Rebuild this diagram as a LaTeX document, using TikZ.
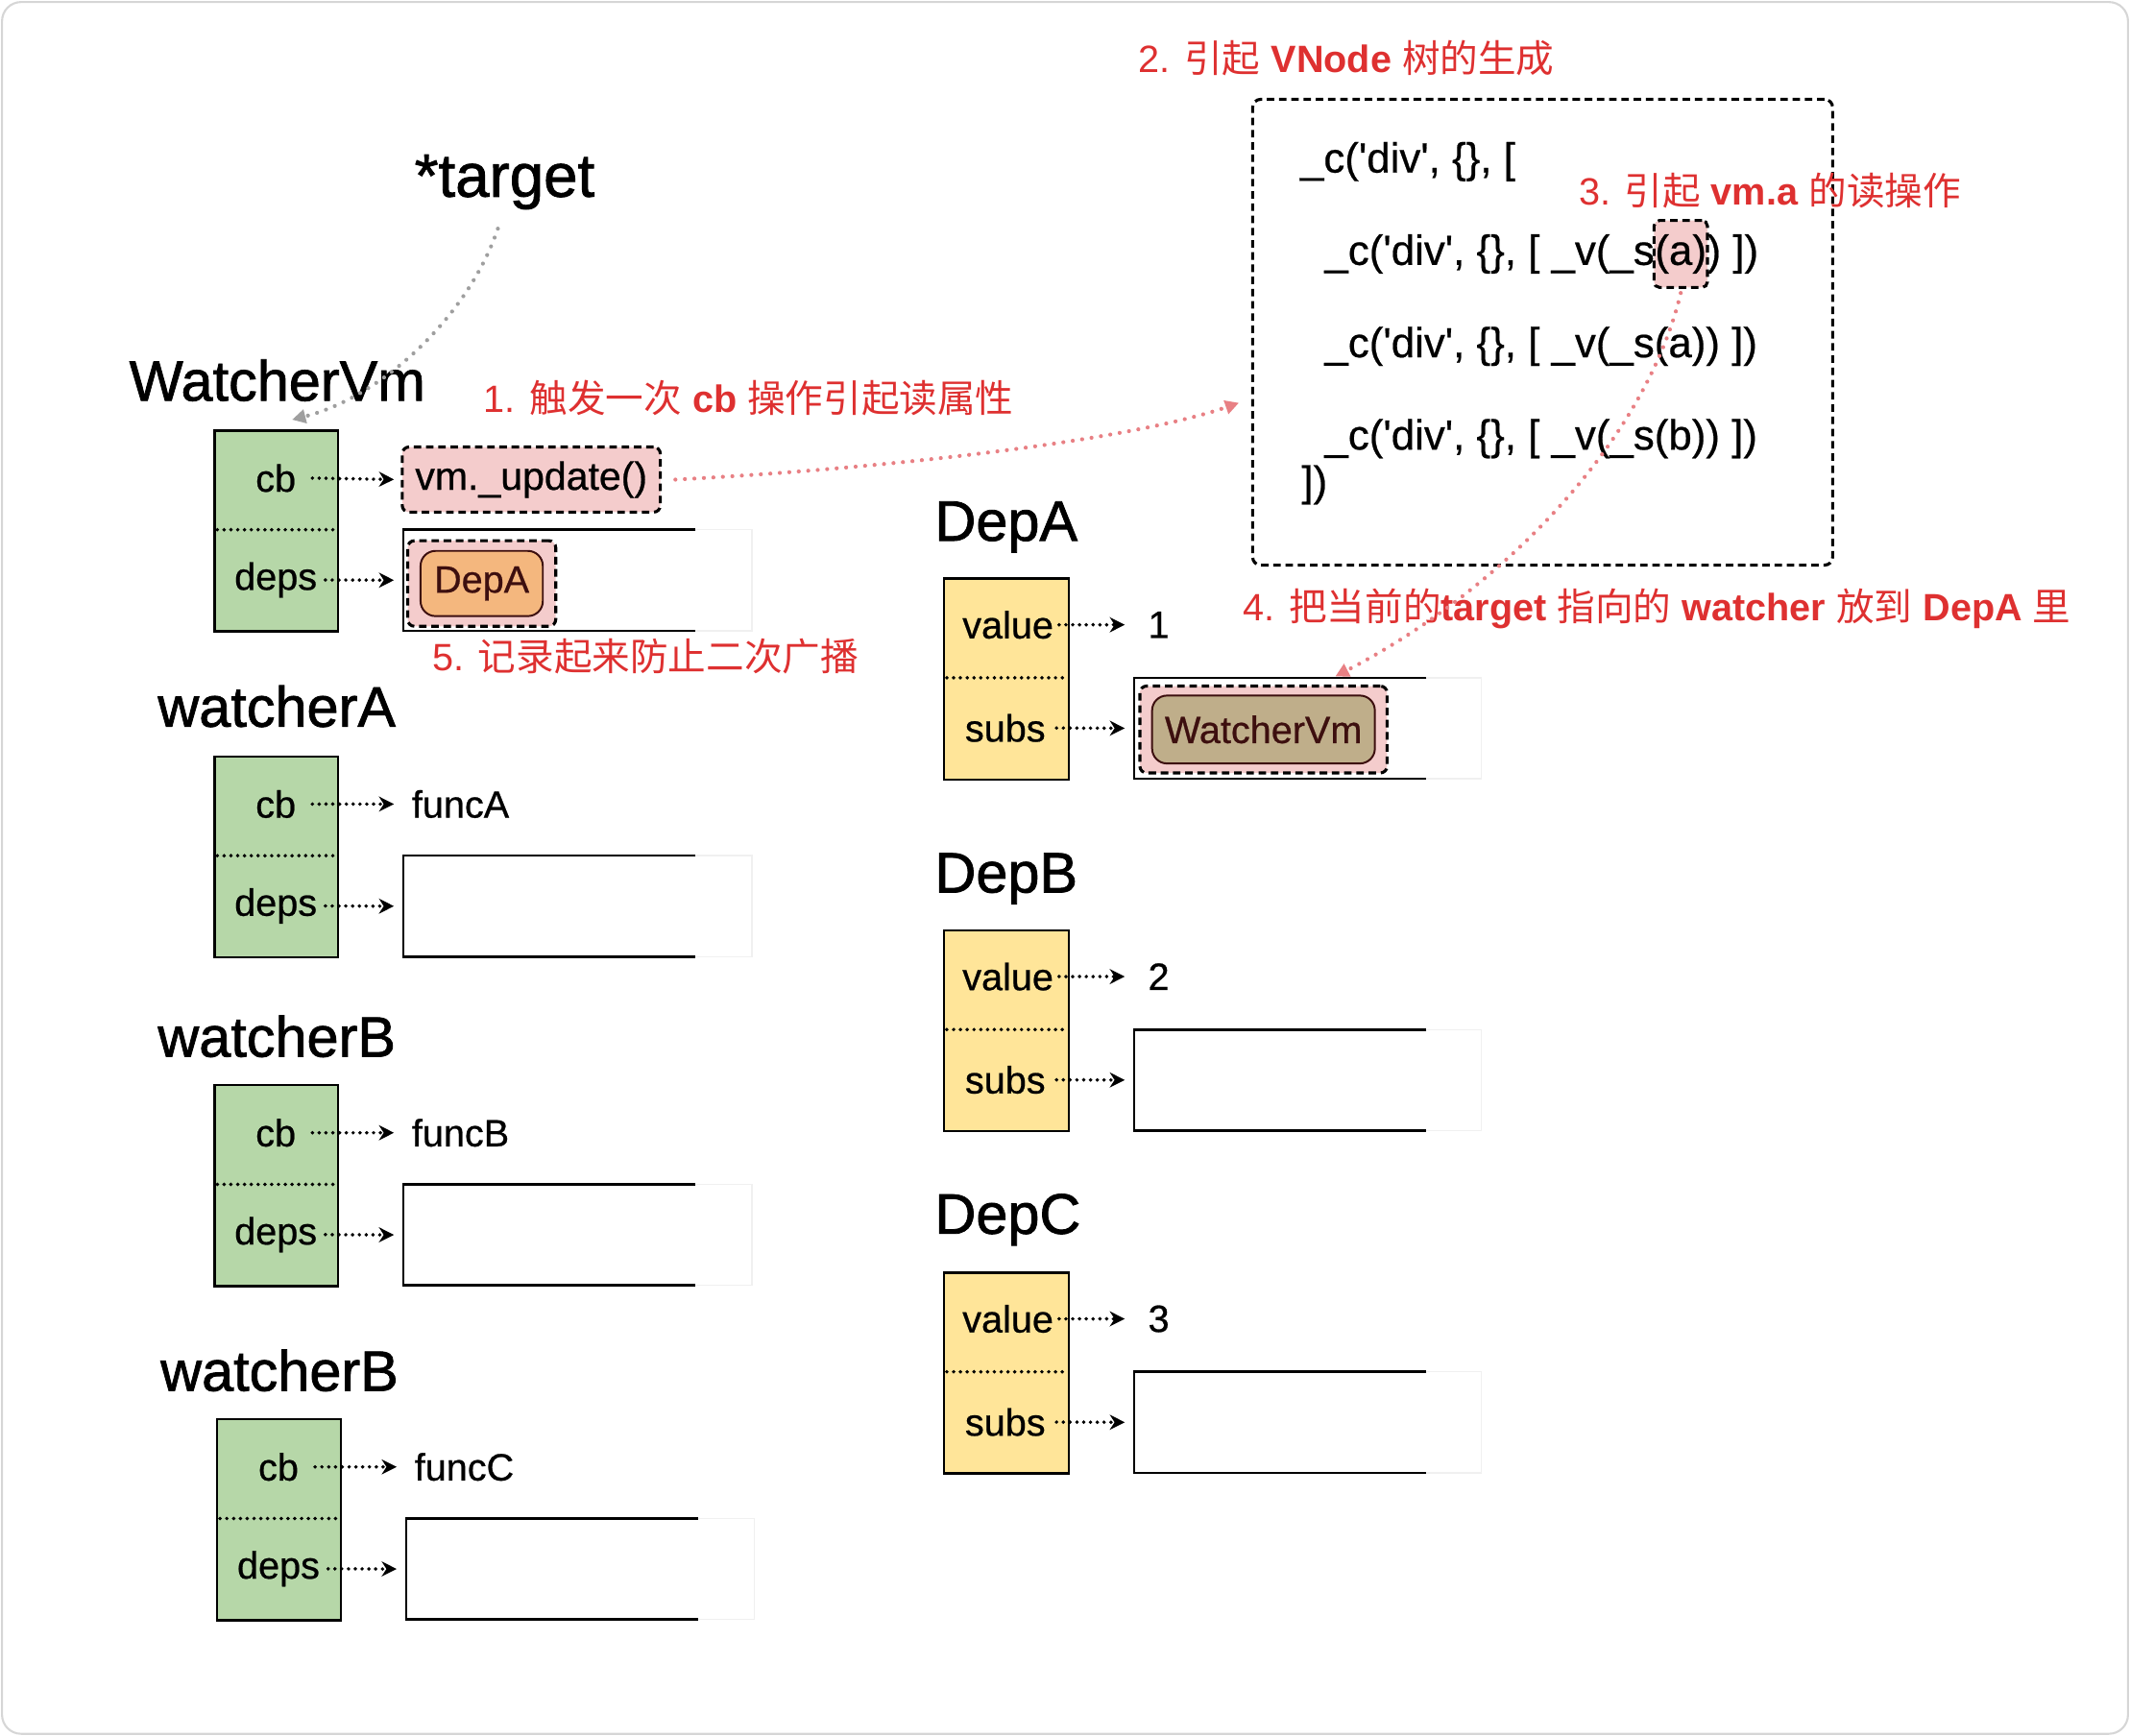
\documentclass[tikz,border=0pt]{standalone}
\usepackage{fontspec}
\setmainfont{Liberation Sans}
\newfontfamily\cjk{Noto Sans CJK SC}
\newfontfamily\codefont{Liberation Sans}[FakeBold=0.5]
\newfontfamily\labfont{Liberation Sans}[FakeBold=0.6]
\newfontfamily\ttlfont{Liberation Sans}[FakeBold=1.3]
\usetikzlibrary{arrows.meta,calc,fit,backgrounds}
\definecolor{wgreen}{HTML}{B6D7A8}
\definecolor{dyellow}{HTML}{FFE599}
\definecolor{hlpink}{HTML}{F4CCCC}
\definecolor{dorange}{HTML}{F4B77E}
\definecolor{dbrown}{HTML}{BFAE8A}
\definecolor{redtxt}{RGB}{222,48,48}
\definecolor{pinkdot}{RGB}{232,128,132}
\definecolor{darkbr}{HTML}{3D0F0F}
\tikzset{
 wbox/.style={draw=black, line width=1.8pt, fill=wgreen, minimum width=91pt, minimum height=148pt, anchor=north west, inner sep=0pt},
 dbox/.style={wbox, fill=dyellow, minimum width=92pt},
 divline/.style={line width=2.8pt, line cap=round, dash pattern=on 0pt off 5pt},
 lab/.style={font=\labfont\fontsize{28}{30}\selectfont, inner sep=0pt},
 ttl/.style={font=\ttlfont\fontsize{42}{46}\selectfont, inner sep=0pt, anchor=west},
 ptr/.style={line width=2.8pt, line cap=round, dash pattern=on 0pt off 5pt, -{Stealth[length=11pt,width=11pt,inset=3.5pt]}},
 arrspan/.style={minimum width=256pt, minimum height=74pt, anchor=north west, inner sep=0pt},
 arrk/.style={line width=1.8pt, black},
 arrfaint/.style={line width=1pt, black!6},
 pinkdash/.style={draw=black, fill=hlpink, line width=2.2pt, dash pattern=on 5.5pt off 3.5pt, rounded corners=5pt, inner sep=0pt},
 orbox/.style={draw=darkbr, fill=dorange, line width=1.4pt, rounded corners=11pt, text=darkbr, font=\labfont\fontsize{28}{30}\selectfont, inner sep=0pt},
 brbox/.style={orbox, fill=dbrown},
 rnote/.style={text=redtxt, font=\fontsize{28}{30}\selectfont, inner sep=0pt, anchor=west},
 code/.style={font=\codefont\fontsize{31}{33}\selectfont, inner sep=0pt, anchor=base west},
 softarrow/.style={line width=3pt, line cap=round, dash pattern=on 0pt off 7pt, -{Triangle[length=10pt,width=10pt]}},
}
\newcommand\qq{\textquotesingle}
\newcommand\wblk[3]{%
  \node[wbox] (#1) at (#2,#3) {};
  \draw[divline] ([xshift=3pt,yshift=-74pt]#1.north west) -- ([xshift=-3pt,yshift=-74pt]#1.north east);
  \node[lab] (#1cb) at ([xshift=46pt,yshift=-36pt]#1.north west) {cb};
  \node[lab] (#1dp) at ([xshift=46pt,yshift=-111pt]#1.north west) {deps};
  \node[arrspan] (#1ar) at ([xshift=140pt,yshift=-74pt]#1.north west) {};
  \draw[arrfaint] ([xshift=215pt]#1ar.north west) -- (#1ar.north east) -- (#1ar.south east) -- ([xshift=215pt]#1ar.south west);
  \draw[arrk] ([xshift=215pt]#1ar.north west) -- (#1ar.north west) -- (#1ar.south west) -- ([xshift=215pt]#1ar.south west);
  \draw[ptr, shorten >=7pt] ([xshift=6pt]#1dp.east) -- (#1ar.west);
}
\newcommand\dblk[4]{%
  \node[dbox] (#1) at (#2,#3) {};
  \draw[divline] ([xshift=3pt,yshift=-74pt]#1.north west) -- ([xshift=-3pt,yshift=-74pt]#1.north east);
  \node[lab] (#1v) at ([xshift=48pt,yshift=-35pt]#1.north west) {value};
  \node[lab] (#1s) at ([xshift=46pt,yshift=-111pt]#1.north west) {subs};
  \node[lab, anchor=west] (#1n) at ([xshift=151pt,yshift=-35pt]#1.north west) {#4};
  \node[arrspan, minimum width=255pt] (#1ar) at ([xshift=141pt,yshift=-74pt]#1.north west) {};
  \draw[arrfaint] ([xshift=215pt]#1ar.north west) -- (#1ar.north east) -- (#1ar.south east) -- ([xshift=215pt]#1ar.south west);
  \draw[arrk] ([xshift=215pt]#1ar.north west) -- (#1ar.north west) -- (#1ar.south west) -- ([xshift=215pt]#1ar.south west);
  \draw[ptr, shorten >=17pt] ([xshift=4pt]#1v.east) -- (#1n.west);
  \draw[ptr, shorten >=7pt] ([xshift=8pt]#1s.east) -- (#1ar.west);
}
\begin{document}
\begin{tikzpicture}[x=1pt,y=-1pt]
\useasboundingbox (0,0) rectangle (1568,1278);
\draw[black!16, line width=1.5pt, rounded corners=14pt] (1.5,1.5) rectangle (1566.5,1276.5);

% titles
\node[ttl, font=\ttlfont\fontsize{45}{48}\selectfont] (tgt) at (305,134) {*target};
\node[ttl] (tWvm) at (95,280) {WatcherVm};
\node[ttl] (tWa) at (116,520) {watcherA};
\node[ttl] (tWb) at (116,763) {watcherB};
\node[ttl] (tWc) at (118,1009) {watcherB};
\node[ttl] (tDa) at (688,388) {DepA};
\node[ttl] (tDb) at (688,647) {DepB};
\node[ttl] (tDc) at (688,898) {DepC};

% watcher blocks
\wblk{wv}{157}{316}
\wblk{wa}{157}{556}
\wblk{wb}{157}{798}
\wblk{wc}{159}{1044}

% dep blocks
\dblk{da}{694}{425}{1}
\dblk{db}{694}{684}{2}
\dblk{dc}{694}{936}{3}

% cb targets
\node[pinkdash, minimum width=190pt, minimum height=48pt, anchor=north west, font=\labfont\fontsize{29}{31}\selectfont] (upd) at (295,328) {vm.\_update()};
\draw[ptr, shorten >=5pt] ([xshift=12pt]wvcb.east) -- (upd.west);
\node[lab, anchor=west] (fa) at (303,592) {funcA};
\draw[ptr, shorten >=13pt] ([xshift=12pt]wacb.east) -- (fa.west);
\node[lab, anchor=west] (fb) at (303,834) {funcB};
\draw[ptr, shorten >=13pt] ([xshift=12pt]wbcb.east) -- (fb.west);
\node[lab, anchor=west] (fc) at (305,1080) {funcC};
\draw[ptr, shorten >=13pt] ([xshift=12pt]wccb.east) -- (fc.west);

% array contents
\node[pinkdash, minimum width=109pt, minimum height=63pt, anchor=north west] (pdA) at ([xshift=2pt,yshift=-7pt]wvar.north west) {};
\node[orbox, minimum width=90pt, minimum height=48pt] (depA) at (pdA.center) {DepA};
\node[pinkdash, minimum width=182pt, minimum height=64pt, anchor=north west] (pdW) at ([xshift=3pt,yshift=-5pt]daar.north west) {};
\node[brbox, minimum width=164pt, minimum height=50pt] (wvm2) at (pdW.center) {WatcherVm};

% code box
\node[draw, line width=2.2pt, dash pattern=on 5.5pt off 3.5pt, rounded corners=6pt, minimum width=427pt, minimum height=343pt, anchor=north west, inner sep=0pt] (codebox) at (921,72) {};
\node[code] (c0) at (957,127) {\_c(\qq div\qq, \{\}, [};
\node[code] (c1a) at (975,195) {\_c(\qq div\qq, \{\}, [ \_v(\_s};
\node[code] (c1b) at (c1a.base east) {(a)};
\node[code] (c1c) at (c1b.base east) {) ])};
\node[code] (c2) at (975,263) {\_c(\qq div\qq, \{\}, [ \_v(\_s(a)) ])};
\node[code] (c3) at (975,331) {\_c(\qq div\qq, \{\}, [ \_v(\_s(b)) ])};
\node[code] (c4) at (958,365) {])};
\begin{scope}[on background layer]
\node[pinkdash, fit=(c1b), inner xsep=0.5pt, inner ysep=10pt, rounded corners=4pt] (hl) {};
\end{scope}

% red notes
\node[rnote] (n1) at (356,293) {1. {\cjk 触发一次} \textbf{cb} {\cjk 操作引起读属性}};
\node[rnote] (n2) at (838,43) {2. {\cjk 引起} \textbf{VNode} {\cjk 树的生成}};
\node[rnote] (n3) at (1162,140) {3. {\cjk 引起} \textbf{vm.a} {\cjk 的读操作}};
\node[rnote] (n4) at (915,448) {4. {\cjk 把当前的}\textbf{target} {\cjk 指向的} \textbf{watcher} {\cjk 放到} \textbf{DepA} {\cjk 里}};
\node[rnote] (n5) at (318,483) {5. {\cjk 记录起来防止二次广播}};

% connectors
\coordinate (wvIn) at ([xshift=58pt,yshift=7pt]wv.north west);
\coordinate (codeIn) at ([xshift=-9pt,yshift=-52pt]codebox.west);
\coordinate (daIn) at ([xshift=148pt,yshift=1pt]daar.north west);
\draw[softarrow, gray!75] ([xshift=-5pt,yshift=-14pt]tgt.south) .. controls (345,232) and (282,292) .. (wvIn);
\draw[softarrow, pinkdot] ([xshift=10pt]upd.east) .. controls (650,345) and (830,325) .. (codeIn);
\draw[softarrow, pinkdot] ([yshift=-3pt]hl.south) .. controls (1212,322) and (1110,432) .. (daIn);
\end{tikzpicture}
\end{document}
